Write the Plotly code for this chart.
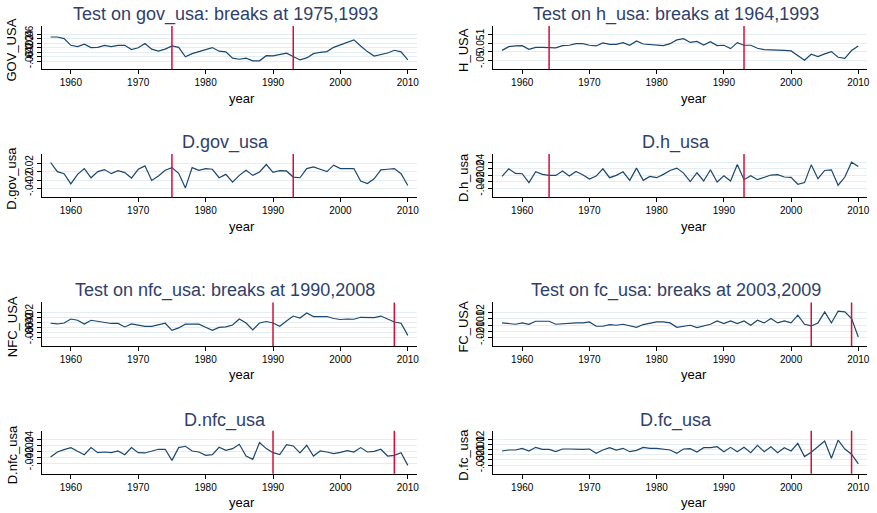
import plotly.graph_objects as go

# ---- data -------------------------------------------------------------
years = list(range(1957, 2011))

gov_usa = [0.047, 0.047, 0.040, 0.010, 0.004, 0.015, 0.000, 0.001, 0.010, 0.004,
           0.010, 0.010, -0.009, -0.001, 0.018, -0.007, -0.016, -0.007, 0.007, 0.001,
           -0.041, -0.027, -0.018, -0.009, 0.000, -0.016, -0.019, -0.047, -0.052, -0.047,
           -0.059, -0.059, -0.036, -0.037, -0.031, -0.025, -0.040, -0.055, -0.046, -0.027,
           -0.021, -0.018, 0.001, 0.013, 0.024, 0.034, 0.007, -0.018, -0.038, -0.031,
           -0.024, -0.012, -0.019, -0.055]

h_usa = [0.009, 0.030, 0.034, 0.036, 0.015, 0.026, 0.026, 0.026, 0.023, 0.036,
         0.038, 0.047, 0.047, 0.038, 0.034, 0.051, 0.043, 0.043, 0.053, 0.038,
         0.062, 0.045, 0.041, 0.036, 0.036, 0.047, 0.068, 0.075, 0.054, 0.060,
         0.039, 0.058, 0.036, 0.038, 0.019, 0.053, 0.038, 0.038, 0.021, 0.013,
         0.013, 0.013, 0.009, 0.006, -0.019, -0.047, -0.013, -0.026, -0.011, 0.002,
         -0.030, -0.036, 0.008, 0.034]

d_gov_usa = [0.0224, 0.0008, -0.0040, -0.0280, -0.0056, 0.0080, -0.0136, 0.0008, 0.0056, -0.0040,
             0.0032, -0.0016, -0.0144, 0.0064, 0.0144, -0.0200, -0.0096, 0.0040, 0.0104, -0.0032,
             -0.0376, 0.0104, 0.0040, 0.0080, 0.0064, -0.0136, -0.0056, -0.0240, -0.0080, 0.0040,
             -0.0080, 0.0000, 0.0176, -0.0008, 0.0032, 0.0024, -0.0120, -0.0136, 0.0080, 0.0120,
             0.0064, 0.0008, 0.0160, 0.0080, 0.0080, 0.0080, -0.0216, -0.0272, -0.0160, 0.0048,
             0.0064, 0.0080, -0.0040, -0.0320]

d_h_usa = [-0.003, 0.020, 0.006, 0.005, -0.022, 0.011, 0.003, 0.000, 0.000, 0.013,
           -0.002, 0.012, 0.002, -0.011, -0.002, 0.020, -0.007, 0.000, 0.011, -0.015,
           0.022, -0.015, -0.003, -0.007, 0.003, 0.015, 0.022, 0.007, -0.019, 0.008,
           -0.017, 0.017, -0.020, -0.001, -0.017, 0.033, -0.013, -0.001, -0.013, -0.005,
           0.001, 0.002, -0.005, -0.006, -0.027, -0.022, 0.032, -0.010, 0.015, 0.017,
           -0.030, -0.005, 0.040, 0.027]

nfc_usa = [-0.024, -0.027, -0.023, -0.007, -0.012, -0.027, -0.012, -0.016, -0.021, -0.025,
           -0.025, -0.039, -0.027, -0.031, -0.037, -0.037, -0.031, -0.024, -0.053, -0.043,
           -0.028, -0.027, -0.028, -0.040, -0.053, -0.041, -0.039, -0.031, -0.007, -0.023,
           -0.051, -0.023, -0.017, -0.023, -0.036, -0.015, 0.005, -0.003, 0.017, 0.003,
           0.003, 0.003, -0.005, -0.009, -0.007, -0.008, 0.000, -0.001, -0.001, 0.005,
           -0.007, -0.019, -0.024, -0.073]

fc_usa = [0.0037, 0.0027, 0.0016, 0.0037, 0.0016, 0.0064, 0.0064, 0.0064, 0.0016, 0.0027,
          0.0032, 0.0037, 0.0037, 0.0053, -0.0016, -0.0016, 0.0011, 0.0000, 0.0016, -0.0011,
          -0.0032, 0.0011, 0.0027, 0.0053, 0.0053, 0.0037, -0.0032, -0.0016, 0.0000, -0.0037,
          -0.0011, 0.0016, 0.0069, 0.0027, 0.0069, 0.0027, 0.0069, 0.0000, 0.0080, 0.0037,
          0.0107, 0.0037, 0.0069, 0.0037, 0.0160, 0.0016, -0.0011, 0.0037, 0.0213, 0.0037,
          0.0224, 0.0213, 0.0107, -0.0187]

d_nfc_usa = [-0.0192, -0.0023, 0.0056, 0.0124, 0.0000, -0.0113, 0.0124, -0.0045, -0.0023, -0.0045,
             0.0011, -0.0113, 0.0124, -0.0045, -0.0056, 0.0011, 0.0068, 0.0068, -0.0304, 0.0124,
             0.0169, 0.0011, -0.0023, -0.0135, -0.0113, 0.0135, 0.0034, 0.0090, 0.0237, -0.0158,
             -0.0270, 0.0293, 0.0090, -0.0045, -0.0113, 0.0225, 0.0180, -0.0056, 0.0203, -0.0158,
             0.0011, -0.0023, -0.0079, -0.0034, 0.0023, -0.0023, 0.0124, -0.0023, 0.0000, 0.0068,
             -0.0158, -0.0135, -0.0045, -0.0473]

d_fc_usa = [-0.0028, -0.0009, -0.0009, 0.0023, -0.0028, 0.0042, 0.0004, 0.0004, -0.0041, 0.0010,
            0.0010, 0.0004, 0.0004, 0.0010, -0.0072, -0.0009, 0.0035, -0.0009, 0.0023, -0.0041,
            -0.0015, 0.0042, 0.0023, 0.0023, 0.0010, -0.0009, -0.0072, 0.0010, 0.0016, -0.0047,
            0.0035, 0.0035, 0.0054, -0.0041, 0.0042, -0.0041, 0.0042, -0.0060, 0.0080, -0.0041,
            0.0054, -0.0060, 0.0035, -0.0028, 0.0118, -0.0135, -0.0053, 0.0054, 0.0162, -0.0167,
            0.0181, 0.0010, -0.0091, -0.0275]

breaks_gov = [1975, 1993]
breaks_h = [1964, 1993]
breaks_nfc = [1990, 2008]
breaks_fc = [2003, 2009]

x_ticks = [1960, 1970, 1980, 1990, 2000, 2010]
x_tick_labels = ["1960", "1970", "1980", "1990", "2000", "2010"]

yt_gov = [-0.06, -0.04, -0.02, 0, 0.02, 0.04, 0.06]
yl_gov = ["-.06", "-.04", "-.02", "0", ".02", ".04", ".06"]
yt_h = [-0.05, 0, 0.05, 0.1]
yl_h = ["-.05", "0", ".05", ".1"]
yt_dgov = [-0.04, -0.02, 0, 0.02]
yl_dgov = ["-.04", "-.02", "0", ".02"]
yt_dh = [-0.04, -0.02, 0, 0.02, 0.04]
yl_dh = ["-.04", "-.02", "0", ".02", ".04"]
yt_nfc = [-0.08, -0.06, -0.04, -0.02, 0, 0.02]
yl_nfc = ["-.08", "-.06", "-.04", "-.02", "0", ".02"]
yt_fc = [-0.02, -0.01, 0, 0.01, 0.02]
yl_fc = ["-.02", "-.01", "0", ".01", ".02"]
yt_dnfc = [-0.04, -0.02, 0, 0.02, 0.04]
yl_dnfc = ["-.04", "-.02", "0", ".02", ".04"]
yt_dfc = [-0.03, -0.02, -0.01, 0, 0.01, 0.02]
yl_dfc = ["-.03", "-.02", "-.01", "0", ".01", ".02"]

# ---- layout helpers ---------------------------------------------------
W, H = 877, 513
LINE = "#1a476f"
BREAK = "#d0103a"
TITLE_C = "#2f3f6b"
GRID = "#e4eef0"
FONT = "Liberation Sans, Arial, sans-serif"

col_x = {0: (42, 418), 1: (495, 870)}
row_y = {0: (25, 68.3), 1: (153.3, 196.8), 2: (302, 345.7), 3: (430.7, 473.7)}
title_x = {0: 226, 1: 678}
xlab_x = {0: 243, 1: 696}
ylab_x = {0: 12, 1: 465}
title_y = {0: 14, 1: 141.7, 2: 290, 3: 420}

panels = [
    # (series, title, ytitle, ticks, labels, yrange, breaks, row, col)
    (gov_usa, "Test on gov_usa: breaks at 1975,1993", "GOV_USA", yt_gov, yl_gov, (-0.096, 0.096), breaks_gov, 0, 0),
    (h_usa, "Test on h_usa: breaks at 1964,1993", "H_USA", yt_h, yl_h, (-0.097, 0.147), breaks_h, 0, 1),
    (d_gov_usa, "D.gov_usa", "D.gov_usa", yt_dgov, yl_dgov, (-0.060, 0.0424), breaks_gov, 1, 0),
    (d_h_usa, "D.h_usa", "D.h_usa", yt_dh, yl_dh, (-0.067, 0.065), breaks_h, 1, 1),
    (nfc_usa, "Test on nfc_usa: breaks at 1990,2008", "NFC_USA", yt_nfc, yl_nfc, (-0.116, 0.060), breaks_nfc, 2, 0),
    (fc_usa, "Test on fc_usa: breaks at 2003,2009", "FC_USA", yt_fc, yl_fc, (-0.033, 0.0363), breaks_fc, 2, 1),
    (d_nfc_usa, "D.nfc_usa", "D.nfc_usa", yt_dnfc, yl_dnfc, (-0.0755, 0.0687), breaks_nfc, 3, 0),
    (d_fc_usa, "D.fc_usa", "D.fc_usa", yt_dfc, yl_dfc, (-0.0465, 0.0358), breaks_fc, 3, 1),
]

fig = go.Figure()
annotations = []
shapes = []
layout_axes = {}

for i, (series, title, ytitle, yt, yl, yr, brk, r, c) in enumerate(panels, start=1):
    xa = "x" if i == 1 else f"x{i}"
    ya = "y" if i == 1 else f"y{i}"
    x0, x1 = col_x[c]
    y0, y1 = row_y[r]
    xdom = [x0 / W, x1 / W]
    ydom = [1 - y1 / H, 1 - y0 / H]

    fig.add_trace(go.Scatter(x=years, y=series, mode="lines",
                             line=dict(color=LINE, width=1.2),
                             xaxis=xa, yaxis=ya, showlegend=False,
                             hoverinfo="x+y"))

    layout_axes["xaxis" if i == 1 else f"xaxis{i}"] = dict(
        domain=xdom, anchor=ya, range=[1955.7, 2011.3],
        tickvals=x_ticks, ticktext=x_tick_labels,
        showgrid=False, zeroline=False, showline=True, linecolor="black",
        linewidth=1, ticks="outside", ticklen=4, tickcolor="black",
        tickfont=dict(family=FONT, size=10, color="black"))
    layout_axes["yaxis" if i == 1 else f"yaxis{i}"] = dict(
        domain=ydom, anchor=xa, range=list(yr),
        tickvals=yt, ticktext=yl, tickangle=-90,
        showgrid=True, gridcolor=GRID, gridwidth=1,
        zeroline=False, showline=True, linecolor="black",
        linewidth=1, ticks="outside", ticklen=4, tickcolor="black",
        tickfont=dict(family=FONT, size=10, color="black"))

    for b in brk:
        shapes.append(dict(type="line", xref=xa, yref=f"{ya} domain",
                           x0=b, x1=b, y0=0, y1=1,
                           line=dict(color=BREAK, width=1.5)))

    annotations.append(dict(text=title, x=title_x[c] / W, y=1 - title_y[r] / H,
                            xref="paper", yref="paper", xanchor="center", yanchor="middle",
                            showarrow=False,
                            font=dict(family=FONT, size=18, color=TITLE_C)))
    annotations.append(dict(text="year", x=xlab_x[c] / W, y=1 - (y1 + 29) / H,
                            xref="paper", yref="paper", xanchor="center", yanchor="middle",
                            showarrow=False,
                            font=dict(family=FONT, size=13, color="black")))
    annotations.append(dict(text=ytitle, x=ylab_x[c] / W, y=1 - ((y0 + y1) / 2 + 2) / H,
                            xref="paper", yref="paper", xanchor="center", yanchor="middle",
                            textangle=-90, showarrow=False,
                            font=dict(family=FONT, size=13, color="black")))

fig.update_layout(width=W, height=H, margin=dict(l=0, r=0, t=0, b=0),
                  paper_bgcolor="white", plot_bgcolor="white",
                  annotations=annotations, shapes=shapes, **layout_axes)

fig.write_html("out.html")
